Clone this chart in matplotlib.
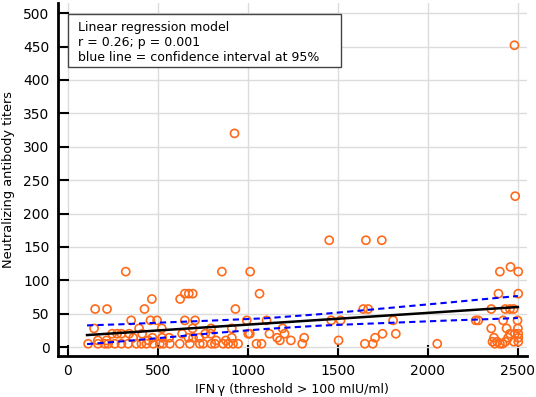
import numpy as np
import matplotlib.pyplot as plt
from matplotlib.patches import Rectangle

# IFN-gamma (mIU/ml) and neutralizing antibody titers
ifn = [926, 2481, 2485,
       1452, 1656, 1744,
       322, 856, 1013, 2400, 2502, 2459,
       650, 672, 694, 1065, 2392, 2502,
       467, 624,
       152, 218, 426, 931, 1641, 1668, 2352, 2430, 2456, 2476,
       352, 459, 496, 650, 707, 994, 1104, 1463, 1515, 1807, 2266, 2280, 2418, 2498,
       146, 396, 522, 693, 796, 911, 1193, 2352, 2437, 2500,
       246, 274, 298, 341, 413, 635, 763, 794, 1002, 1011, 1120, 1204, 1748, 1822, 2456, 2483, 2502,
       363, 470, 524, 563, 670, 696, 730, 911, 1163, 1313, 1707, 2367, 2446, 2502,
       167, 215, 448, 824, 878, 1178, 1239, 1504,
       2359, 2385, 2430, 2478, 2502,
       113, 168, 206, 224, 261, 298, 335, 381, 409, 437, 474, 511, 530, 567, 622, 678,
       733, 752, 798, 817, 863, 891, 918, 946, 1048, 1076, 1302, 1650, 1694, 2052, 2372, 2400, 2415]
titer = [320, 452, 226,
         160, 160, 160,
         113, 113, 113, 113, 113, 120,
         80, 80, 80, 80, 80, 80,
         72, 72,
         57, 57, 57, 57, 57, 57, 57, 57, 57, 57,
         40, 40, 40, 40, 40, 40, 40, 40, 40, 40, 40, 40, 40, 40,
         28, 28, 28, 28, 28, 28, 28, 28, 28, 28,
         20, 20, 20, 20, 20, 20, 20, 20, 20, 20, 20, 20, 20, 20, 20, 20, 20,
         14, 14, 14, 14, 14, 14, 14, 14, 14, 14, 14, 14, 14, 14,
         10, 10, 10, 10, 10, 10, 10, 10,
         8, 8, 8, 8, 8,
         5, 5, 5, 5, 5, 5, 5, 5, 5, 5, 5, 5, 5, 5, 5, 5,
         5, 5, 5, 5, 5, 5, 5, 5, 5, 5, 5, 5, 5, 5, 5, 5, 5]

# regression line and 95% confidence band
fit_x = [107, 2500]
fit_y = [18, 60]
ci_x = [107, 300, 511, 800, 1100, 1400, 1622, 1900, 2122, 2300, 2500]
ci_upper = [32.5, 34.2, 36.6, 39.7, 43.2, 49.3, 54.6, 61.5, 66.9, 71.5, 76.5]
ci_lower = [4.5, 8.6, 13.6, 20.7, 27.2, 32.1, 34.6, 37.5, 39.9, 41.5, 43.5]

fig = plt.figure(figsize=(5.36, 3.97), dpi=100)
ax = fig.add_axes([0.108, 0.103, 0.875, 0.889])

ax.grid(True, color='#dcdcdc', linewidth=1)
ax.set_axisbelow(True)

ax.scatter(ifn, titer, s=34, facecolors='none', edgecolors='#ff6a1a', linewidths=1.2, zorder=3)
ax.plot(fit_x, fit_y, color='black', linewidth=1.8, zorder=4)
ax.plot(ci_x, ci_upper, color='#0000ff', linewidth=1.5, linestyle=(0, (3, 2)), zorder=4)
ax.plot(ci_x, ci_lower, color='#0000ff', linewidth=1.5, linestyle=(0, (3, 2)), zorder=4)

ax.set_xlim(-55, 2550)
ax.set_ylim(-13.5, 515)
ax.set_xticks(np.arange(0, 2501, 500))
ax.set_yticks(np.arange(0, 501, 50))

for s in ['top', 'right']:
    ax.spines[s].set_visible(False)
for s in ['left', 'bottom']:
    ax.spines[s].set_linewidth(2)
ax.tick_params(direction='in', length=8, width=1.5, labelsize=10, pad=6)

ax.set_xlabel('IFN\u2009γ (threshold > 100 mIU/ml)', fontsize=9, labelpad=3)
ax.set_ylabel('Neutralizing antibody titers', fontsize=9.3, labelpad=6)

# annotation box
ax.add_patch(Rectangle((0.021, 0.819), 0.582, 0.150, transform=ax.transAxes,
                       facecolor='white', edgecolor='#444444', linewidth=1, zorder=5))
ax.text(0.043, 0.95, 'Linear regression model\nr = 0.26; p = 0.001\nblue line = confidence interval at 95%',
        transform=ax.transAxes, fontsize=9, va='top', ha='left', linespacing=1.2, zorder=6)

fig.savefig('out.png', dpi=100)
